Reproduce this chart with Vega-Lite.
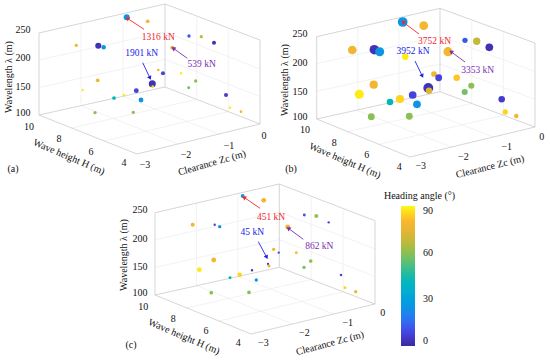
{
"$schema":"https://vega.github.io/schema/vega-lite/v6.json",
"width":550,"height":361,"padding":0,
"autosize":{"type":"fit","contains":"padding"},
"background":"white",
"view":{"stroke":null},
"config":{"font":"Liberation Serif"},
"datasets":{
"frame":[
{"p":"a","x":137,"y":154,"x2":39,"y2":115,"kind":"box"},{"p":"a","x":137,"y":154,"x2":260,"y2":124,"kind":"box"},{"p":"a","x":39,"y":115,"x2":165,"y2":87,"kind":"box"},{"p":"a","x":165,"y":87,"x2":260,"y2":124,"kind":"box"},{"p":"a","x":39,"y":115,"x2":39,"y2":33,"kind":"box"},{"p":"a","x":165,"y":87,"x2":165,"y2":4,"kind":"box"},{"p":"a","x":260,"y":124,"x2":260,"y2":40,"kind":"box"},{"p":"a","x":39,"y":33,"x2":165,"y2":4,"kind":"box"},{"p":"a","x":165,"y":4,"x2":260,"y2":40,"kind":"box"},
{"p":"a","x":104.3,"y":141,"x2":228.3,"y2":111.7,"kind":"grid"},{"p":"a","x":71.7,"y":128,"x2":196.7,"y2":99.3,"kind":"grid"},{"p":"a","x":178,"y":144,"x2":81,"y2":105.7,"kind":"grid"},{"p":"a","x":219,"y":134,"x2":123,"y2":96.3,"kind":"grid"},{"p":"a","x":81,"y":105.7,"x2":81,"y2":23.2,"kind":"grid"},{"p":"a","x":123,"y":96.3,"x2":123,"y2":13.8,"kind":"grid"},{"p":"a","x":39,"y":87.5,"x2":165,"y2":59.5,"kind":"grid"},{"p":"a","x":39,"y":60,"x2":165,"y2":32,"kind":"grid"},{"p":"a","x":228.3,"y":111.7,"x2":228.3,"y2":29,"kind":"grid"},{"p":"a","x":196.7,"y":99.3,"x2":196.7,"y2":16.8,"kind":"grid"},{"p":"a","x":165,"y":59.5,"x2":260,"y2":96.5,"kind":"grid"},{"p":"a","x":165,"y":32,"x2":260,"y2":69,"kind":"grid"},
{"p":"b","x":410,"y":157,"x2":316.7,"y2":119,"kind":"box"},{"p":"b","x":410,"y":157,"x2":535,"y2":127,"kind":"box"},{"p":"b","x":316.7,"y":119,"x2":440,"y2":91.7,"kind":"box"},{"p":"b","x":440,"y":91.7,"x2":535,"y2":127,"kind":"box"},{"p":"b","x":316.7,"y":119,"x2":316.7,"y2":36.7,"kind":"box"},{"p":"b","x":440,"y":91.7,"x2":440,"y2":8.3,"kind":"box"},{"p":"b","x":535,"y":127,"x2":535,"y2":43,"kind":"box"},{"p":"b","x":316.7,"y":36.7,"x2":440,"y2":8.3,"kind":"box"},{"p":"b","x":440,"y":8.3,"x2":535,"y2":43,"kind":"box"},
{"p":"b","x":378.9,"y":144.3,"x2":503.3,"y2":115.2,"kind":"grid"},{"p":"b","x":347.8,"y":131.7,"x2":471.7,"y2":103.5,"kind":"grid"},{"p":"b","x":451.7,"y":147,"x2":357.8,"y2":110.6,"kind":"grid"},{"p":"b","x":493.3,"y":137,"x2":398.9,"y2":100.1,"kind":"grid"},{"p":"b","x":357.8,"y":110.6,"x2":357.8,"y2":28.1,"kind":"grid"},{"p":"b","x":398.9,"y":100.1,"x2":398.9,"y2":17.6,"kind":"grid"},{"p":"b","x":316.7,"y":91.3,"x2":440,"y2":64,"kind":"grid"},{"p":"b","x":316.7,"y":63.6,"x2":440,"y2":36.3,"kind":"grid"},{"p":"b","x":503.3,"y":115.2,"x2":503.3,"y2":32.7,"kind":"grid"},{"p":"b","x":471.7,"y":103.5,"x2":471.7,"y2":21,"kind":"grid"},{"p":"b","x":440,"y":64,"x2":535,"y2":99.3,"kind":"grid"},{"p":"b","x":440,"y":36.3,"x2":535,"y2":71.6,"kind":"grid"},
{"p":"c","x":251,"y":334,"x2":155,"y2":295,"kind":"box"},{"p":"c","x":251,"y":334,"x2":375,"y2":304,"kind":"box"},{"p":"c","x":155,"y":295,"x2":279.3,"y2":267.3,"kind":"box"},{"p":"c","x":279.3,"y":267.3,"x2":375,"y2":304,"kind":"box"},{"p":"c","x":155,"y":295,"x2":155,"y2":212.7,"kind":"box"},{"p":"c","x":279.3,"y":267.3,"x2":279.3,"y2":184,"kind":"box"},{"p":"c","x":375,"y":304,"x2":375,"y2":220.7,"kind":"box"},{"p":"c","x":155,"y":212.7,"x2":279.3,"y2":184,"kind":"box"},{"p":"c","x":279.3,"y":184,"x2":375,"y2":220.7,"kind":"box"},
{"p":"c","x":219,"y":321,"x2":343.1,"y2":291.8,"kind":"grid"},{"p":"c","x":187,"y":308,"x2":311.2,"y2":279.5,"kind":"grid"},{"p":"c","x":292.3,"y":324,"x2":196.4,"y2":285.4,"kind":"grid"},{"p":"c","x":333.7,"y":314,"x2":237.9,"y2":276.2,"kind":"grid"},{"p":"c","x":196.4,"y":285.4,"x2":196.4,"y2":203,"kind":"grid"},{"p":"c","x":237.9,"y":276.2,"x2":237.9,"y2":193.8,"kind":"grid"},{"p":"c","x":155,"y":267.4,"x2":279.3,"y2":239.7,"kind":"grid"},{"p":"c","x":155,"y":239.8,"x2":279.3,"y2":212.1,"kind":"grid"},{"p":"c","x":343.1,"y":291.8,"x2":343.1,"y2":209.5,"kind":"grid"},{"p":"c","x":311.2,"y":279.5,"x2":311.2,"y2":197,"kind":"grid"},{"p":"c","x":279.3,"y":239.7,"x2":375,"y2":276.4,"kind":"grid"},{"p":"c","x":279.3,"y":212.1,"x2":375,"y2":248.8,"kind":"grid"}
],
"points":[
{"p":"a","x":126.7,"y":17.3,"heading":25,"force":1316},{"p":"a","x":147.7,"y":21.3,"heading":78,"force":400},{"p":"a","x":76.3,"y":45.3,"heading":78,"force":300},{"p":"a","x":98.3,"y":45.7,"heading":3,"force":1400},{"p":"a","x":103.7,"y":47.3,"heading":25,"force":660},{"p":"a","x":189,"y":36,"heading":12,"force":300},{"p":"a","x":201.3,"y":36.7,"heading":68,"force":300},{"p":"a","x":214,"y":42.7,"heading":3,"force":520},{"p":"a","x":172.3,"y":47.7,"heading":78,"force":539},{"p":"a","x":158.3,"y":70,"heading":78,"force":130},{"p":"a","x":163,"y":73.3,"heading":8,"force":520},{"p":"a","x":181,"y":73.3,"heading":88,"force":70},{"p":"a","x":195.7,"y":81,"heading":60,"force":300},{"p":"a","x":188.7,"y":87.7,"heading":57,"force":200},{"p":"a","x":226,"y":95,"heading":6,"force":520},{"p":"a","x":230,"y":107.7,"heading":88,"force":70},{"p":"a","x":241,"y":111.7,"heading":78,"force":130},{"p":"a","x":97.7,"y":80.3,"heading":78,"force":400},{"p":"a","x":82.7,"y":90,"heading":88,"force":70},{"p":"a","x":152.3,"y":83.7,"heading":3,"force":1901},{"p":"a","x":152.7,"y":86.7,"heading":85,"force":130},{"p":"a","x":136.3,"y":90.7,"heading":8,"force":800},{"p":"a","x":124,"y":95,"heading":88,"force":130},{"p":"a","x":114,"y":98,"heading":43,"force":400},{"p":"a","x":141,"y":100,"heading":25,"force":800},{"p":"a","x":95,"y":112.7,"heading":60,"force":300},{"p":"a","x":133.3,"y":112.3,"heading":60,"force":300},
{"p":"b","x":402.7,"y":22,"heading":25,"force":3752},{"p":"b","x":423.7,"y":25.7,"heading":78,"force":3000},{"p":"b","x":352.3,"y":50,"heading":78,"force":3000},{"p":"b","x":374.3,"y":49.7,"heading":3,"force":3600},{"p":"b","x":379.7,"y":51.7,"heading":25,"force":3200},{"p":"b","x":465,"y":40.3,"heading":12,"force":1000},{"p":"b","x":476.7,"y":41.3,"heading":68,"force":2100},{"p":"b","x":489.3,"y":47.3,"heading":3,"force":2300},{"p":"b","x":448,"y":51.7,"heading":78,"force":3353},{"p":"b","x":405.3,"y":56.7,"heading":88,"force":1600},{"p":"b","x":434,"y":74,"heading":78,"force":1200},{"p":"b","x":438.7,"y":77.7,"heading":8,"force":1800},{"p":"b","x":456.7,"y":77.7,"heading":83,"force":1600},{"p":"b","x":471.3,"y":85.7,"heading":60,"force":1400},{"p":"b","x":464.7,"y":92,"heading":57,"force":1400},{"p":"b","x":501.7,"y":99.3,"heading":6,"force":1600},{"p":"b","x":505.3,"y":112,"heading":85,"force":1000},{"p":"b","x":516.3,"y":116,"heading":78,"force":660},{"p":"b","x":373.7,"y":84.7,"heading":78,"force":2650},{"p":"b","x":359.3,"y":94.3,"heading":88,"force":3300},{"p":"b","x":428.3,"y":88,"heading":3,"force":3952},{"p":"b","x":429,"y":90.7,"heading":72,"force":1600},{"p":"b","x":412.7,"y":95,"heading":8,"force":2300},{"p":"b","x":400,"y":99,"heading":85,"force":2650},{"p":"b","x":390,"y":102,"heading":43,"force":1600},{"p":"b","x":417,"y":104.3,"heading":25,"force":2300},{"p":"b","x":371.3,"y":116.7,"heading":60,"force":1800},{"p":"b","x":409.3,"y":116.3,"heading":60,"force":1800},
{"p":"c","x":242.7,"y":196,"heading":25,"force":451},{"p":"c","x":263.7,"y":200.3,"heading":78,"force":800},{"p":"c","x":192.7,"y":224.7,"heading":78,"force":520},{"p":"c","x":214.7,"y":224.7,"heading":8,"force":70},{"p":"c","x":219.7,"y":226.7,"heading":25,"force":300},{"p":"c","x":304.3,"y":215,"heading":12,"force":200},{"p":"c","x":316.3,"y":216,"heading":62,"force":520},{"p":"c","x":328.7,"y":222.3,"heading":8,"force":60},{"p":"c","x":287.7,"y":227,"heading":78,"force":862},{"p":"c","x":273.7,"y":249.3,"heading":78,"force":300},{"p":"c","x":278.7,"y":252.7,"heading":8,"force":60},{"p":"c","x":296.3,"y":252.7,"heading":82,"force":200},{"p":"c","x":310.7,"y":261,"heading":60,"force":400},{"p":"c","x":304,"y":267.3,"heading":57,"force":300},{"p":"c","x":341,"y":275,"heading":8,"force":100},{"p":"c","x":345,"y":287.7,"heading":85,"force":200},{"p":"c","x":355.7,"y":291.7,"heading":78,"force":300},{"p":"c","x":213.7,"y":260,"heading":78,"force":800},{"p":"c","x":199.3,"y":269.7,"heading":88,"force":800},{"p":"c","x":268,"y":264,"heading":5,"force":45},{"p":"c","x":269,"y":266,"heading":75,"force":200},{"p":"c","x":252,"y":270.3,"heading":5,"force":100},{"p":"c","x":239.7,"y":274.7,"heading":85,"force":660},{"p":"c","x":230,"y":277.7,"heading":43,"force":200},{"p":"c","x":256.3,"y":280,"heading":25,"force":300},{"p":"c","x":211.3,"y":292.7,"heading":60,"force":400},{"p":"c","x":249,"y":292.3,"heading":60,"force":400}
],
"arrows":[
{"p":"a","case":"A","x":144,"y":29.3,"x2":127.3,"y2":18.3,"dir":303,"lx":158.3,"ly":37.3,"label":"1316 kN"},
{"p":"a","case":"B","x":142.7,"y":62.7,"x2":150,"y2":78,"dir":154.5,"lx":141.7,"ly":52.7,"label":"1901 kN"},
{"p":"a","case":"C","x":187.3,"y":58.3,"x2":173.3,"y2":48.3,"dir":305.5,"lx":201.7,"ly":64.3,"label":"539 kN"},
{"p":"b","case":"A","x":419,"y":34,"x2":403,"y2":22,"dir":307,"lx":434.5,"ly":41,"label":"3752 kN"},
{"p":"b","case":"B","x":415,"y":61,"x2":422.3,"y2":76,"dir":154,"lx":413,"ly":51,"label":"3952 kN"},
{"p":"b","case":"C","x":465,"y":62,"x2":451,"y2":51.7,"dir":306.4,"lx":477.7,"ly":70,"label":"3353 kN"},
{"p":"c","case":"A","x":260,"y":208.3,"x2":244,"y2":197.3,"dir":304.5,"lx":271,"ly":216.7,"label":"451 kN"},
{"p":"c","case":"B","x":258.3,"y":241.7,"x2":266.7,"y2":257.3,"dir":151.7,"lx":252.3,"ly":231.7,"label":"45 kN"},
{"p":"c","case":"C","x":303.3,"y":239.3,"x2":288.3,"y2":228.3,"dir":306.3,"lx":319.3,"ly":245.7,"label":"862 kN"}
],
"texts":[
{"x":23,"y":30,"t":"250","rot":0},{"x":23,"y":58,"t":"200","rot":0},{"x":23,"y":87,"t":"150","rot":0},{"x":23,"y":113,"t":"100","rot":0},
{"x":29,"y":127,"t":"10","rot":0},{"x":59,"y":139,"t":"8","rot":0},{"x":91,"y":152,"t":"6","rot":0},{"x":124,"y":163,"t":"4","rot":0},
{"x":145,"y":165,"t":"−3","rot":0},{"x":186,"y":155,"t":"−2","rot":0},{"x":229,"y":146,"t":"−1","rot":0},{"x":264,"y":136,"t":"0","rot":0},
{"x":9,"y":77,"t":"Wavelength λ (m)","rot":270},{"x":69,"y":157,"t":"Wave height H (m)","rot":23},{"x":212,"y":163,"t":"Clearance Zc (m)","rot":344},{"x":13,"y":169,"t":"(a)","rot":0},
{"x":300,"y":34,"t":"250","rot":0},{"x":300,"y":63,"t":"200","rot":0},{"x":300,"y":92,"t":"150","rot":0},{"x":300,"y":117,"t":"100","rot":0},
{"x":305,"y":130,"t":"10","rot":0},{"x":334.3,"y":142.7,"t":"8","rot":0},{"x":366.7,"y":155.3,"t":"6","rot":0},{"x":399.3,"y":167.3,"t":"4","rot":0},
{"x":420.7,"y":165.7,"t":"−3","rot":0},{"x":463.3,"y":156.7,"t":"−2","rot":0},{"x":506.7,"y":147,"t":"−1","rot":0},{"x":541.7,"y":137.3,"t":"0","rot":0},
{"x":285,"y":80,"t":"Wavelength λ (m)","rot":270},{"x":345,"y":160.7,"t":"Wave height H (m)","rot":23},{"x":490,"y":166.7,"t":"Clearance Zc (m)","rot":346},{"x":291,"y":169,"t":"(b)","rot":0},
{"x":140,"y":210,"t":"250","rot":0},{"x":140,"y":239,"t":"200","rot":0},{"x":140,"y":267,"t":"150","rot":0},{"x":140,"y":292.7,"t":"100","rot":0},
{"x":143.3,"y":306.7,"t":"10","rot":0},{"x":173.3,"y":319,"t":"8","rot":0},{"x":206,"y":331,"t":"6","rot":0},{"x":238.3,"y":342.7,"t":"4","rot":0},
{"x":263.3,"y":342.7,"t":"−3","rot":0},{"x":304.3,"y":333.3,"t":"−2","rot":0},{"x":347.7,"y":323.3,"t":"−1","rot":0},{"x":382.7,"y":313.3,"t":"0","rot":0},
{"x":124,"y":255,"t":"Wavelength λ (m)","rot":270},{"x":184,"y":336.7,"t":"Wave height H (m)","rot":23},{"x":330,"y":343.3,"t":"Clearance Zc (m)","rot":345},{"x":131,"y":345,"t":"(c)","rot":0},
{"x":419.5,"y":196,"t":"Heading angle (°)","rot":0}
]
},
"encoding":{
"x":{"field":"x","type":"quantitative","axis":null,"scale":{"domain":[0,550],"nice":false,"zero":false}},
"y":{"field":"y","type":"quantitative","axis":null,"scale":{"domain":[361,0],"nice":false,"zero":false}}
},
"resolve":{"scale":{"color":"independent"}},
"layer":[
{"data":{"name":"frame"},"mark":{"type":"rule","strokeWidth":0.7},
"encoding":{"x2":{"field":"x2"},"y2":{"field":"y2"},
"color":{"field":"kind","type":"nominal","legend":null,"scale":{"domain":["box","grid"],"range":["#c4c4c4","#ededed"]}},
"order":{"field":"kind","sort":"descending"}}},
{"data":{"name":"points"},"mark":{"type":"circle","opacity":1,"stroke":null},
"encoding":{
"color":{"field":"heading","type":"quantitative",
"scale":{"domain":[0,9,18,27,36,45,54,63,72,81,90],"range":["#3b2a9c","#4545e6","#3578f0","#1f9be0","#10afd0","#19baa8","#5cc074","#a5bd45","#dfb436","#fcb72e","#f9fb15"]},
"legend":{"orient":"none","legendX":401,"legendY":206,"title":null,"values":[0,30,60,90],"gradientLength":140,"gradientThickness":14,"labelFontSize":10,"labelFont":"Liberation Serif","labelColor":"#111","labelOffset":8,"tickCount":4,"gradientStrokeWidth":0}},
"size":{"field":"force","type":"quantitative","legend":null,"scale":{"domain":[0,4000],"range":[4,100]}}}},
{"data":{"name":"arrows"},"mark":{"type":"rule","strokeWidth":0.9},
"encoding":{"x2":{"field":"x2"},"y2":{"field":"y2"},
"color":{"field":"case","type":"nominal","legend":null,"scale":{"domain":["A","B","C"],"range":["#f0282d","#2222e8","#7a2fb0"]}}}},
{"data":{"name":"arrows"},"mark":{"type":"point","shape":"triangle-up","filled":true,"size":22,"opacity":1},
"encoding":{"x":{"field":"x2","type":"quantitative"},"y":{"field":"y2","type":"quantitative"},
"angle":{"field":"dir","type":"quantitative","scale":null},
"color":{"field":"case","type":"nominal","legend":null,"scale":{"domain":["A","B","C"],"range":["#f0282d","#2222e8","#7a2fb0"]}}}},
{"data":{"name":"arrows"},"mark":{"type":"text","font":"Liberation Serif","fontSize":9.5,"align":"center","baseline":"middle"},
"encoding":{"x":{"field":"lx","type":"quantitative"},"y":{"field":"ly","type":"quantitative"},"text":{"field":"label"},
"color":{"field":"case","type":"nominal","legend":null,"scale":{"domain":["A","B","C"],"range":["#f0282d","#2222e8","#7a2fb0"]}}}},
{"data":{"name":"texts"},"mark":{"type":"text","font":"Liberation Serif","fontSize":10,"align":"center","baseline":"middle","color":"#111"},
"encoding":{"text":{"field":"t"},"angle":{"field":"rot","type":"quantitative","scale":null}}}
]
}
